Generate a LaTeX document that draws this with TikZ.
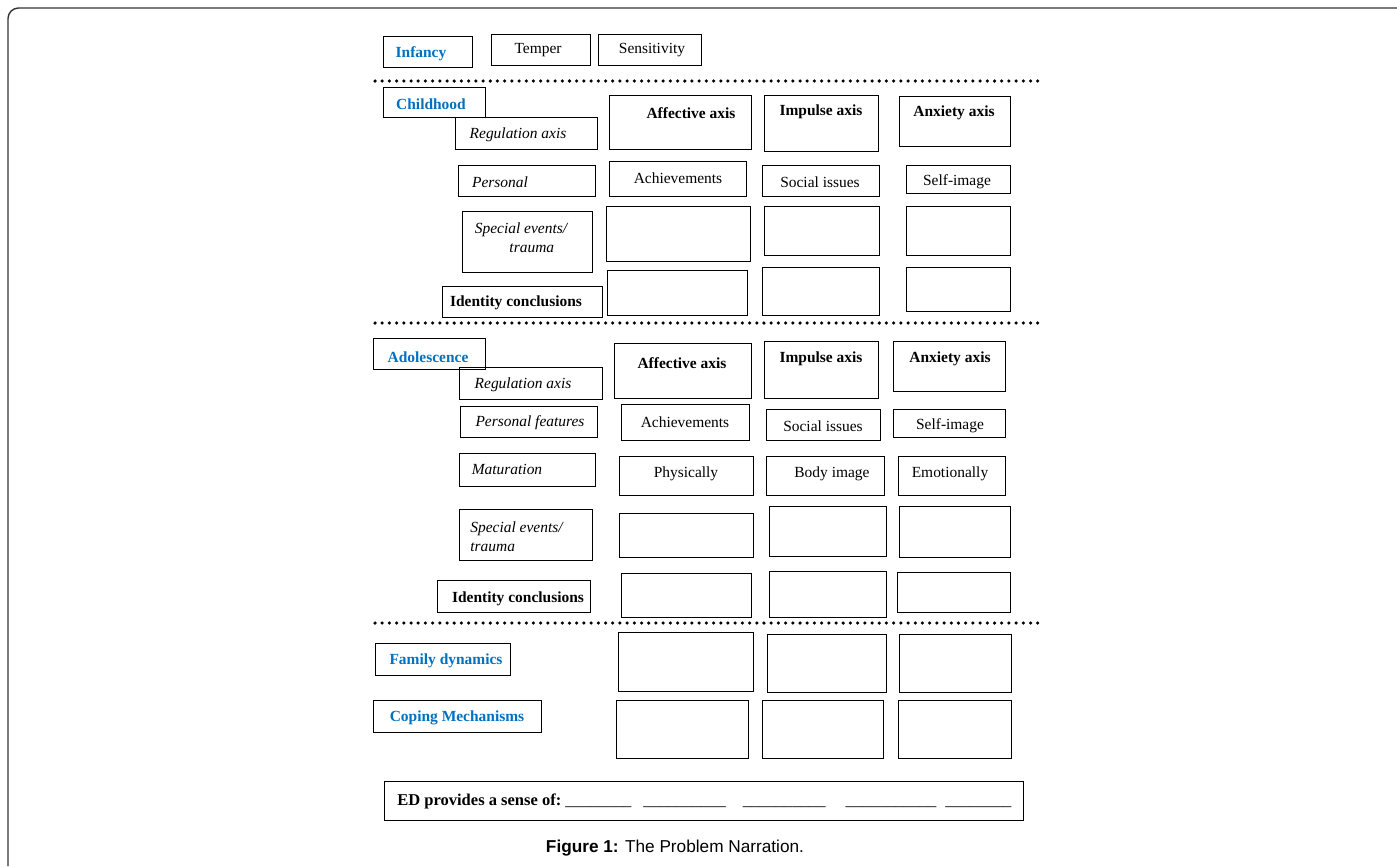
\documentclass[tikz,border=0pt]{standalone}
\usepackage{fontspec}
\setmainfont{Liberation Serif}
\newfontfamily\capfont{Liberation Sans}
\usetikzlibrary{fit}
\definecolor{stageblue}{RGB}{0,112,192}
\newcommand{\cell}[5]{\path(#2,#3)coordinate(#1-nw)(#4,#5)coordinate(#1-se);
\node[cell,fit=(#1-nw)(#1-se)](#1){};}
\tikzset{
cell/.style={draw,line width=0.5pt,inner sep=0pt},
lbl/.style={inner sep=0pt,yshift=-1pt,font=\fontsize{8.8}{10.5}\selectfont},
axis/.style={lbl,font=\fontsize{8.8}{10.5}\selectfont\bfseries},
reg/.style={lbl,font=\fontsize{8.8}{10.5}\selectfont\itshape},
stage/.style={lbl,text=stageblue,font=\fontsize{8.8}{10.5}\selectfont\bfseries},
sep/.style={line width=2pt,line cap=round,dash pattern=on 0pt off 4.1pt}}

\begin{document}
\begin{tikzpicture}[x=0.02cm,y=-0.02cm]
\useasboundingbox(0,0)rectangle(1397,866);
\draw[black!80,line width=0.8pt,rounded corners=6pt](8,866)--(8,8)--(1397,8);
\foreach \y in {81,323,623}\draw[sep](375,\y)--(1038,\y);

\foreach \n/\a/\b/\c/\d in {inf/383/36/472/67,tmp/491/34/590/65,sen/598/34/701/65,
ch/383/87/485/117,chreg/455/117/597/149,chaff/609/95/751/149,chimp/764/95/878/151,chanx/899/96/1010/146,
chper/458/165/595/196,chach/609/161/746/196,chsoc/762/165/879/196,chself/906/165/1010/193,
chspe/462/211/592/272,chs1/606/206/750/261,chs2/764/206/879/255,chs3/906/206/1010/255,
chid/442/286/602/317,chi1/607/270/747/315,chi2/762/267/879/315,chi3/906/267/1010/311,
ad/373/338/485/369,adreg/459/367/602/399,adaff/614/343/751/398,adimp/764/341/878/398,adanx/893/341/1005/391,
adper/460/406/597/437,adach/621/404/749/440,adsoc/766/409/880/440,adself/893/409/1005/437,
admat/459/453/595/486,adphy/619/456/753/495,adbod/766/456/884/495,ademo/898/456/1005/495,
adspe/459/509/592/560,ads1/619/513/753/557,ads2/769/506/886/556,ads3/899/506/1010/557,
adid/437/580/590/612,adi1/621/573/751/617,adi2/769/571/886/617,adi3/897/572/1010/612,
fam/375/643/510/675,fam1/618/632/753/691,fam2/767/634/886/692,fam3/899/634/1011/692,
cop/373/700/541/732,cop1/616/700/748/758,cop2/762/700/883/758,cop3/898/700/1011/758,
ed/384/781/1023/820}
{\cell{\n}{\a}{\b}{\c}{\d}}

\node[stage](inf-t)at(421,52){Infancy};
\node[lbl](tmp-t)at(538,48){Temper};
\node[lbl](sen-t)at(652,48){Sensitivity};

\node[stage](ch-t)at(431,102){Childhood};
\node[reg](chreg-t)at(518,133){Regulation axis};
\node[axis](chaff-t)at(691,111){Affective axis};
\node[axis](chimp-t)at(821,110){Impulse axis};
\node[axis](chanx-t)at(954,111){Anxiety axis};
\node[reg](chper-t)at(500,180){Personal};
\node[lbl](chach-t)at(678,176){Achievements};
\node[lbl](chsoc-t)at(820,180){Social issues};
\node[lbl](chself-t)at(957,180){Self-image};
\node[reg,align=center](chspe-t)at(521,236){Special events/\\\hspace*{1.4em}trauma};
\node[axis](chid-t)at(516,301){Identity conclusions};

\node[stage](ad-t)at(428,355){Adolescence};
\node[reg](adreg-t)at(523,383){Regulation axis};
\node[axis](adaff-t)at(682,361){Affective axis};
\node[axis](adimp-t)at(821,357){Impulse axis};
\node[axis](adanx-t)at(950,357){Anxiety axis};
\node[reg](adper-t)at(530,421){Personal features};
\node[lbl](adach-t)at(685,420){Achievements};
\node[lbl](adsoc-t)at(823,424){Social issues};
\node[lbl](adself-t)at(950,424){Self-image};
\node[reg](admat-t)at(507,468){Maturation};
\node[lbl](adphy-t)at(686,472){Physically};
\node[lbl](adbod-t)at(832,472){Body image};
\node[lbl](ademo-t)at(950,472){Emotionally};
\node[reg,align=left,anchor=west](adspe-t)at(470,535){Special events/\\trauma};
\node[axis](adid-t)at(518,597){Identity conclusions};

\node[stage](fam-t)at(446,659){Family dynamics};
\node[stage](cop-t)at(457,716){Coping Mechanisms};

\node[lbl,anchor=west,font=\fontsize{9.4}{11}\selectfont](ed-t)at(397,800){\textbf{ED provides a sense of:}\hspace{2.3pt}\_\_\_\_\_\_\_\_\hspace{6.8pt}\_\_\_\_\_\_\_\_\_\_\hspace{9.7pt}\_\_\_\_\_\_\_\_\_\_\hspace{11.4pt}\_\_\_\_\_\_\_\_\_\_\_\hspace{5.1pt}\_\_\_\_\_\_\_\_};
\node[inner sep=0pt,font=\capfont\fontsize{9.8}{11.5}\selectfont](cap)at(675,848){\textbf{Figure 1:} The Problem Narration.};
\end{tikzpicture}
\end{document}
